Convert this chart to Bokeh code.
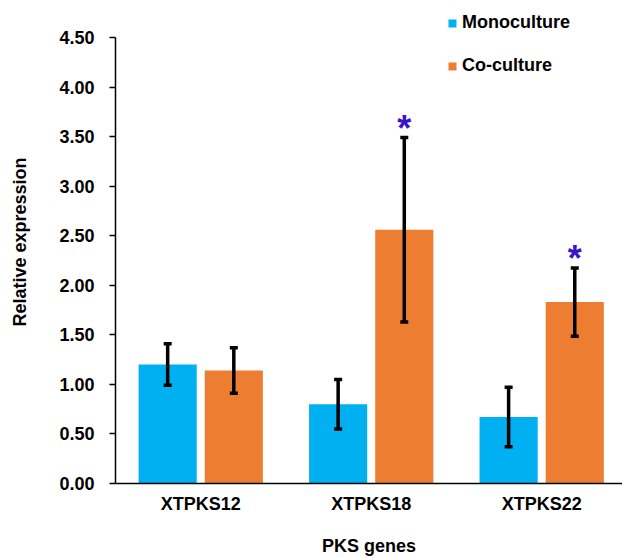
from bokeh.plotting import figure
from bokeh.models import (ColumnDataSource, Whisker, FixedTicker, Legend, LegendItem,
                          NumeralTickFormatter, Range1d, TeeHead)
from bokeh.transform import dodge
from bokeh.core.properties import value
from bokeh.embed import file_html
from bokeh.resources import INLINE

# ---- data ----
genes = ["XTPKS12", "XTPKS18", "XTPKS22"]
series_names = ["Monoculture", "Co-culture"]
mono = [1.20, 0.80, 0.67]
mono_err = [0.21, 0.25, 0.30]
co = [1.14, 2.56, 1.83]
co_err = [0.23, 0.93, 0.345]
co_sig = ["", "*", "*"]
y_ticks = [0.0, 0.5, 1.0, 1.5, 2.0, 2.5, 3.0, 3.5, 4.0, 4.5]

# ---- styling ----
FONT = "Liberation Sans"
BLUE = "#00B0F0"
ORANGE = "#ED7D31"
STAR = "#3A14C8"
OFF = 0.194
BW = 0.341

xpos = [i + 0.5 for i in range(len(genes))]
src = ColumnDataSource(dict(
    x=xpos,
    mono=mono, mono_up=[v + e for v, e in zip(mono, mono_err)],
    mono_lo=[v - e for v, e in zip(mono, mono_err)],
    co=co, co_up=[v + e for v, e in zip(co, co_err)],
    co_lo=[v - e for v, e in zip(co, co_err)],
    sig=co_sig,
))

# frame reaches the top of the figure so the legend sits inside it;
# the visible y axis is bounded to the 0..4.5 tick span
p = figure(width=622, height=558, output_backend="svg", toolbar_location=None,
           x_range=Range1d(0, 2.974), y_range=Range1d(0, 4.873),
           min_border_left=115, min_border_right=0, min_border_top=0,
           min_border_bottom=75)
p.outline_line_color = None
p.xgrid.visible = False
p.ygrid.visible = False

r_mono = p.vbar(x=dodge("x", -OFF), top="mono", width=BW, source=src,
                fill_color=BLUE, line_color=None)
r_co = p.vbar(x=dodge("x", OFF), top="co", width=BW, source=src,
              fill_color=ORANGE, line_color=None)

for off, up, lo in [(-OFF, "mono_up", "mono_lo"), (OFF, "co_up", "co_lo")]:
    w = Whisker(base=dodge("x", off), upper=up, lower=lo, source=src,
                level="overlay",
                line_color="black", line_width=3.5,
                upper_head=TeeHead(size=8, line_width=3.5, line_color="black"),
                lower_head=TeeHead(size=8, line_width=3.5, line_color="black"))
    p.add_layout(w)

p.text(x=dodge("x", OFF), y="co_up", text="sig", source=src,
       text_font=value(FONT), text_font_style="bold", text_font_size="36px",
       text_color=STAR, text_align="center", text_baseline="middle",
       y_offset=-9)

# axes
p.xaxis.ticker = FixedTicker(ticks=xpos)
p.xaxis.major_label_overrides = {x: g for x, g in zip(xpos, genes)}
p.xaxis.major_tick_line_color = None
p.xaxis.minor_tick_line_color = None
p.xaxis.major_tick_out = 0
p.xaxis.major_tick_in = 0
p.xaxis.axis_line_color = "black"
p.xaxis.axis_line_width = 1.5
p.xaxis.major_label_standoff = 10
p.xaxis.axis_label = "PKS genes"
p.xaxis.axis_label_standoff = 19

p.yaxis.ticker = FixedTicker(ticks=y_ticks)
p.yaxis.bounds = (y_ticks[0], y_ticks[-1])
p.yaxis.formatter = NumeralTickFormatter(format="0.00")
p.yaxis.minor_tick_line_color = None
p.yaxis.major_tick_in = 0
p.yaxis.major_tick_out = 6
p.yaxis.major_tick_line_color = "black"
p.yaxis.major_tick_line_width = 1.5
p.yaxis.axis_line_color = "black"
p.yaxis.axis_line_width = 1.5
p.yaxis.major_label_standoff = 15
p.yaxis.axis_label = "Relative expression"
p.yaxis.axis_label_standoff = 26

for ax in (p.xaxis, p.yaxis):
    ax.major_label_text_font = FONT
    ax.major_label_text_font_style = "bold"
    ax.major_label_text_font_size = "18px"
    ax.major_label_text_color = "black"
    ax.axis_label_text_font = FONT
    ax.axis_label_text_font_style = "bold"
    ax.axis_label_text_font_size = "18px"
    ax.axis_label_text_color = "black"

legend = Legend(items=[LegendItem(label=series_names[0], renderers=[r_mono]),
                       LegendItem(label=series_names[1], renderers=[r_co])],
                location=(332, 407), orientation="vertical",
                glyph_width=10, glyph_height=10, label_standoff=5,
                spacing=22, padding=0, margin=0,
                border_line_color=None, background_fill_alpha=0,
                label_text_font=FONT, label_text_font_style="bold",
                label_text_font_size="18px", label_text_color="black")
p.add_layout(legend, "center")

open("out.html", "w").write(file_html(p, INLINE))
